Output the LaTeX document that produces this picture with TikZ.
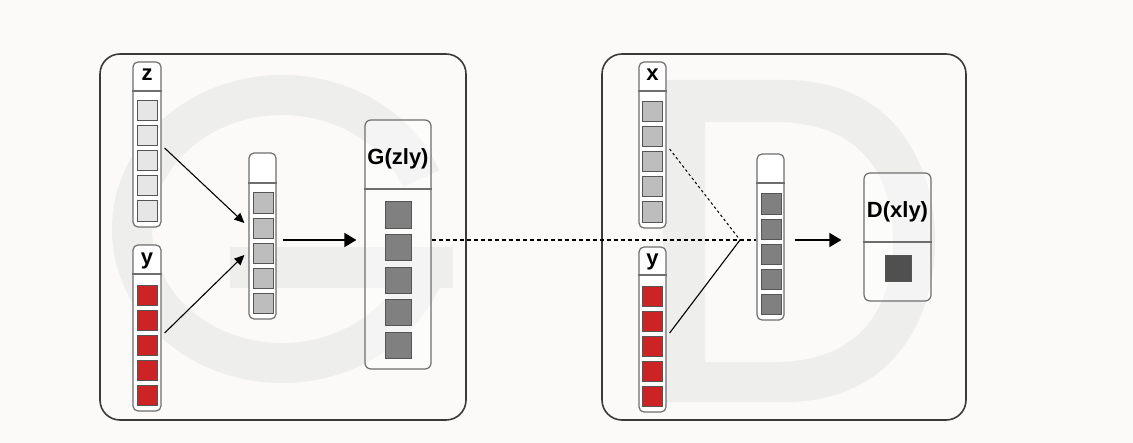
\documentclass[tikz,border=0pt]{standalone}
\usepackage{fontspec}
\setmainfont{Liberation Sans}
\usetikzlibrary{arrows.meta,calc}
\definecolor{bg}{HTML}{FBFAF8}
\definecolor{wmc}{HTML}{EEEEED}
\definecolor{bigline}{HTML}{3A3A3A}
\definecolor{colline}{HTML}{6E6E6E}
\definecolor{sqline}{HTML}{555555}
\definecolor{zfill}{HTML}{E6E6E6}
\definecolor{redfill}{HTML}{CC2424}
\definecolor{lgfill}{HTML}{BDBDBD}
\definecolor{mgfill}{HTML}{808080}
\definecolor{dgfill}{HTML}{505050}
\tikzset{
  wm/.style={wmc},
  bigbox/.style={draw=bigline, line width=0.8pt, rounded corners=10pt, inner sep=0pt},
  colbox/.style={draw=colline, fill=white, line width=0.6pt, rounded corners=2.5pt, inner sep=0pt, minimum width=14pt},
  outbox/.style={draw=colline, fill=white, fill opacity=0.4, line width=0.6pt, rounded corners=3pt, inner sep=0pt},
  divline/.style={draw=colline, line width=0.6pt},
  sq/.style={draw=sqline, line width=0.5pt, minimum size=10pt, inner sep=0pt},
  bigsq/.style={draw=sqline, line width=0.5pt, minimum size=13pt, inner sep=0pt},
  lbl/.style={font=\bfseries\fontsize{11}{13}\selectfont, anchor=base, inner sep=0pt},
  arr/.style={draw=black, line width=0.55pt, -{Triangle[length=5pt,width=4.5pt]}},
  bigarr/.style={draw=black, line width=0.9pt, -{Triangle[length=6pt,width=7pt]}},
  dashline/.style={draw=black, line width=0.55pt, dash pattern=on 2pt off 1.5pt},
  dotline/.style={draw=black, line width=0.5pt, dash pattern=on 1.3pt off 1.3pt},
  plainline/.style={draw=black, line width=0.55pt}
}
\begin{document}
\begin{tikzpicture}[x=0.5pt,y=-0.5pt]
\fill[bg] (0,0) rectangle (1133,443);
\useasboundingbox (0,0) rectangle (1133,443);

% watermarks
\draw[wm, line width=20pt] (421.1,178.8) arc[start angle=-22, end angle=-342, x radius=150, y radius=134];
\fill[wm] (230,247) rectangle (453,288);
\fill[wm, even odd rule]
  (663,80) -- (785,80) .. controls (890,80) and (935,160) .. (935,241)
  .. controls (935,322) and (890,402) .. (785,402) -- (663,402) -- cycle
  (705,122) -- (775,122) .. controls (865,122) and (893,180) .. (893,241)
  .. controls (893,302) and (865,362) .. (775,362) -- (705,362) -- cycle;

% big boxes
\node[bigbox, minimum width=183pt, minimum height=183pt] (Gpanel) at (283,237) {};
\node[bigbox, minimum width=182pt, minimum height=183pt] (Dpanel) at (784,237) {};

% columns
\node[colbox, minimum height=82.5pt] (zcol) at (147,144.5) {};
\node[colbox, minimum height=83pt] (ycolL) at (147,328) {};
\node[colbox, minimum width=13.5pt, minimum height=83pt] (mcolL) at (262.5,236) {};
\node[outbox, minimum width=33pt, minimum height=124.5pt] (Gbox) at (398,244.5) {};
\node[colbox, minimum width=13.5pt, minimum height=83pt] (xcol) at (652.5,145) {};
\node[colbox, minimum width=13.5pt, minimum height=82.5pt] (ycolR) at (652.5,329.5) {};
\node[colbox, minimum width=13.5pt, minimum height=83pt] (mcolR) at (770.5,237) {};
\node[outbox, minimum width=33.5pt, minimum height=64pt] (Dbox) at (897.5,237) {};

% dividers
\draw[divline] (zcol.west |- 0,91) -- (zcol.east |- 0,91);
\draw[divline] (ycolL.west |- 0,274) -- (ycolL.east |- 0,274);
\draw[divline] (mcolL.west |- 0,183) -- (mcolL.east |- 0,183);
\draw[divline] (Gbox.west |- 0,189) -- (Gbox.east |- 0,189);
\draw[divline] (xcol.west |- 0,91) -- (xcol.east |- 0,91);
\draw[divline] (ycolR.west |- 0,275) -- (ycolR.east |- 0,275);
\draw[divline] (mcolR.west |- 0,183) -- (mcolR.east |- 0,183);
\draw[divline] (Dbox.west |- 0,242) -- (Dbox.east |- 0,242);

% labels
\node[lbl] (zlab) at (147,81) {z};
\node[lbl] (ylabL) at (147,264) {y};
\node[lbl] (Glab) at (398,165) {G(zly)};
\node[lbl] (xlab) at (652.5,81) {x};
\node[lbl] (ylabR) at (652.5,265) {y};
\node[lbl] (Dlab) at (897.5,217) {D(xly)};

% squares
\foreach \k in {0,...,4} {
  \node[sq, fill=zfill] (z\k) at (147,{111+25*\k}) {};
  \node[sq, fill=redfill] (yl\k) at (147,{295+25*\k}) {};
  \node[sq, fill=lgfill] (ml\k) at (263,{203+25*\k}) {};
  \node[bigsq, fill=mgfill] (g\k) at (398,{215+32.5*\k}) {};
  \node[sq, fill=lgfill] (x\k) at (652,{112+25*\k}) {};
  \node[sq, fill=redfill] (yr\k) at (652,{296+25*\k}) {};
  \node[sq, fill=mgfill] (mr\k) at (771,{204+25*\k}) {};
}
\node[bigsq, fill=dgfill] (dout) at (898,268) {};

% connectors
\coordinate (j) at (740,240);
\draw[arr] ($(zcol.east)+(3,3.5)$) -- ($(mcolL.west)+(-4,-13)$);
\draw[arr] ($(ycolL.east)+(3,5)$) -- ($(mcolL.west)+(-4,19)$);
\draw[bigarr, shorten <=3pt, shorten >=4pt] (mcolL.east |- j) -- (Gbox.west |- j);
\draw[dashline] (Gbox.east |- j) -- (mcolR.west |- j);
\draw[dotline] ($(xcol.east)+(3,4)$) -- (j);
\draw[plainline] ($(ycolR.east)+(3,3.5)$) -- (j);
\draw[bigarr, shorten <=5pt, shorten >=11pt] (mcolR.east |- j) -- (Dbox.west |- j);
\end{tikzpicture}
\end{document}
